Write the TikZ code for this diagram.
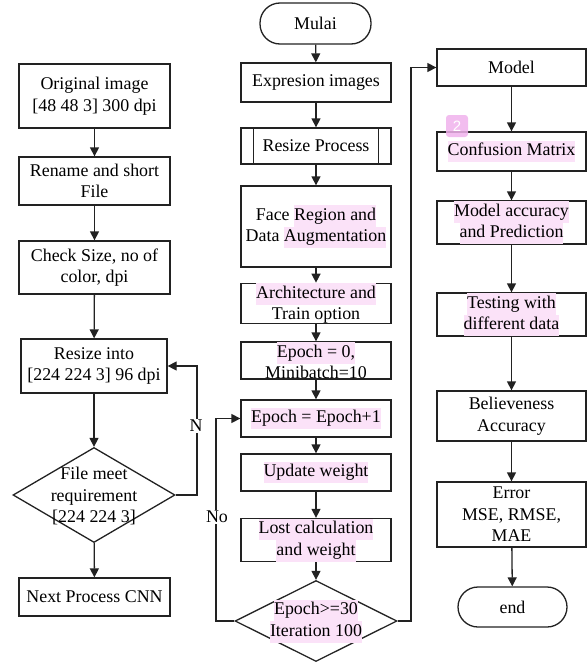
\documentclass[tikz,border=0pt]{standalone}
\usepackage{fontspec}
\setmainfont{Liberation Serif}
\newfontfamily\badgefont{Liberation Sans}
\usetikzlibrary{shapes.geometric,arrows.meta}
\definecolor{hlpink}{HTML}{FBE2F8}
\definecolor{badgepink}{HTML}{F0B2EC}
\definecolor{lnc}{HTML}{222222}
\newcommand{\hlt}[1]{{\setlength{\fboxsep}{0pt}\colorbox{hlpink}{\strut #1}}}
\begin{document}
\begin{tikzpicture}[x={(1pt,0pt)},y={(0pt,-1pt)},
  font=\fontsize{17.9}{21.5}\selectfont,
  box/.style={draw=lnc,line width=1.3pt,rectangle,inner sep=0pt,align=center},
  term/.style={box,rounded corners=20pt},
  dia/.style={draw=lnc,line width=1.3pt,diamond,inner sep=0pt},
  txt/.style={inner sep=0pt,align=center},
  arr/.style={draw=lnc,line width=1.3pt,-{Triangle[length=9pt,width=9pt]}},
  lab/.style={fill=white,inner sep=1pt}]
\useasboundingbox (0,0) rectangle (587,664);
% left column
\node[box,minimum width=151pt,minimum height=64pt] (o1) at (94.5,96) {Original image\\{[48 48 3]} 300 dpi};
\node[box,minimum width=151pt,minimum height=48pt] (o2) at (94.5,181) {Rename and short\\File};
\node[box,minimum width=151pt,minimum height=53pt] (o3) at (94.5,267.5) {Check Size, no of\\color, dpi};
\node[box,minimum width=146pt,minimum height=54pt] (o4) at (94,366) {Resize into\\{[224 224 3]} 96 dpi};
\node[dia,minimum width=162pt,minimum height=95pt] (d1) at (94,495) {};
\node[txt] (d1t) at (94,496) {File meet\\requirement\\{[224 224 3]}};
\node[box,minimum width=151pt,minimum height=38pt] (o5) at (94.5,597) {Next Process CNN};
\coordinate (fbx) at (197,0);
\draw[arr] (o1) -- (o2);
\draw[arr] (o2) -- (o3);
\draw[arr] (o3) -- (o4);
\draw[arr] (o4) -- (d1);
\draw[arr] (d1) -- (o5);
\draw[arr] (d1.east) -- (d1.east -| fbx) |- (o4.east);
\node[lab] (nlab) at (196,426) {N};
% middle column
\node[term,minimum width=111pt,minimum height=41pt] (m0) at (315.5,23.5) {Mulai};
\node[box,minimum width=150pt,minimum height=39pt] (m1) at (316,82.5) {Expresion images};
\node[box,minimum width=150pt,minimum height=36pt] (m2) at (316,146) {Resize Process};
\draw[lnc,line width=1.3pt] ([xshift=13pt]m2.north west) -- ([xshift=13pt]m2.south west);
\draw[lnc,line width=1.3pt] ([xshift=-13pt]m2.north east) -- ([xshift=-13pt]m2.south east);
\node[box,minimum width=150pt,minimum height=81pt] (m3) at (316,226.5) {Face \hlt{Region and}\\Data \hlt{Augmentation}};
\node[box,minimum width=150pt,minimum height=37pt] (m4) at (316,303.5) {\hlt{Architecture and}\\Train option};
\node[box,minimum width=150pt,minimum height=37pt] (m5) at (316,360.5) {\hlt{Epoch = 0,}\\Minibatch=10};
\node[box,minimum width=150pt,minimum height=37pt] (m6) at (316,418.5) {\hlt{Epoch = Epoch+1}};
\node[box,minimum width=150pt,minimum height=37pt] (m7) at (316,472.5) {\hlt{Update weight}};
\node[box,minimum width=150pt,minimum height=38pt] (m8) at (316,540) {\hlt{Lost calculation}\\\hlt{and weight}};
\node[dia,minimum width=162pt,minimum height=81pt] (d2) at (316,621) {};
\node[txt] (d2t) at (316,621) {\hlt{Epoch>=30}\\\hlt{Iteration 100}};
\coordinate (nox) at (216,0);
\coordinate (yesx) at (411,0);
\draw[arr] (m0) -- (m1);
\draw[arr] (m1) -- (m2);
\draw[arr] (m2) -- (m3);
\draw[arr] (m3) -- (m4);
\draw[arr] (m4) -- (m5);
\draw[arr] (m5) -- (m6);
\draw[arr] (m6) -- (m7);
\draw[arr] (m7) -- (m8);
\draw[arr] (m8) -- (d2);
\draw[arr] (d2.west) -- (d2.west -| nox) |- (m6.west);
\node[lab] (nolab) at (217,517) {No};
% right column
\node[box,minimum width=149pt,minimum height=37pt] (r1) at (511.5,67.5) {Model};
\node[box,minimum width=149pt,minimum height=39pt] (r2) at (511.5,151.5) {\hlt{Confusion Matrix}};
\node[box,minimum width=149pt,minimum height=39pt] (r3) at (511.5,222.5) {\hlt{Model accuracy}\\\hlt{and Prediction}};
\node[box,minimum width=149pt,minimum height=37pt] (r4) at (511.5,314.5) {\hlt{Testing with}\\\hlt{different data}};
\node[box,minimum width=149pt,minimum height=50pt] (r5) at (511.5,416) {Believeness\\Accuracy};
\node[box,minimum width=149pt,minimum height=65pt] (r6) at (511.5,514.5) {Error\\MSE, RMSE,\\MAE};
\node[term,minimum width=109pt,minimum height=40pt] (r7) at (512.5,607) {end};
\draw[arr] (d2.east) -- (d2.east -| yesx) |- (r1.west);
\draw[arr] (r1) -- (r2);
\draw[arr] (r2) -- (r3);
\draw[arr] (r3) -- (r4);
\draw[arr] (r4) -- (r5);
\draw[arr] (r5) -- (r6);
\draw[arr] (r6) -- (r7);
\node[fill=badgepink,rounded corners=3pt,minimum width=22pt,minimum height=22pt,inner sep=0pt,text=white,font=\badgefont\fontsize{15}{15}\selectfont,opacity=0.85,text opacity=1] (badge) at (457,126) {2};
\end{tikzpicture}
\end{document}
